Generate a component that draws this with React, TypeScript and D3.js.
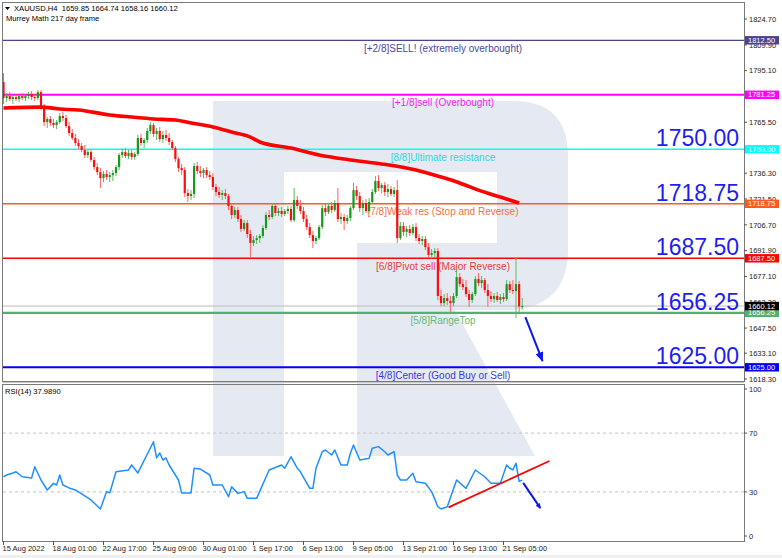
import React from "react";
import * as d3 from "d3";

// ---- data ----
const headerOHLC = [1659.85, 1664.74, 1658.16, 1660.12];
const rsiCurrent = 37.989;

const timeLabels = [
  "15 Aug 2022", "18 Aug 01:00", "22 Aug 17:00", "25 Aug 09:00", "30 Aug 01:00",
  "1 Sep 17:00", "6 Sep 13:00", "9 Sep 05:00", "13 Sep 21:00", "16 Sep 13:00", "21 Sep 05:00",
];
const timeLabelBars = [0, 16, 32, 48, 64, 80, 96, 112, 128, 144, 160];

// ticks that are not hidden behind the level tags
const priceTicks = [
  1824.7, 1809.9, 1795.1, 1765.5, 1736.3, 1721.5,
  1706.7, 1691.9, 1677.1, 1662.3, 1647.5, 1633.1, 1618.3,
];
const rsiTicks = [100, 70, 30, 0];
const rsiLevels = [70, 30];

// H4 candles, 15 Aug - 22 Sep 2022
const opens = [
  1788.6, 1779.4, 1780.5, 1778.8, 1779.9, 1778.8, 1780.5, 1779.4, 1780.5, 1781.7,
  1779.9, 1779.4, 1782.8, 1774.2, 1765.6, 1767.4, 1765.1, 1763.9, 1765.6, 1769.1,
  1767.9, 1763.3, 1759.3, 1756.5, 1753.6, 1751.9, 1749.6, 1746.7, 1748.4, 1743.9,
  1739.8, 1736.9, 1733.5, 1735.8, 1734.1, 1735.2, 1736.4, 1739.8, 1746.7, 1748.4,
  1746.1, 1747.9, 1745.6, 1747.3, 1756.5, 1753.6, 1755.3, 1760.5, 1763.9, 1758.8,
  1760.5, 1755.9, 1758.2, 1756.5, 1754.2, 1750.7, 1744.4, 1739.3, 1738.1, 1724.9,
  1723.2, 1724.4, 1740.4, 1737.5, 1736.4, 1738.1, 1735.2, 1734.1, 1728.4, 1725.5,
  1723.8, 1724.9, 1723.2, 1717.5, 1712.3, 1715.2, 1710.0, 1704.3, 1707.7, 1701.4,
  1696.3, 1698.0, 1699.1, 1700.3, 1704.9, 1712.3, 1711.2, 1717.5, 1713.5, 1714.6,
  1712.9, 1714.6, 1715.8, 1709.4, 1720.9, 1717.5, 1714.6, 1710.0, 1705.4, 1700.8,
  1697.4, 1699.1, 1705.4, 1716.3, 1714.0, 1717.5, 1715.2, 1719.2, 1710.0, 1711.2,
  1708.9, 1710.6, 1716.3, 1726.6, 1723.2, 1716.3, 1719.2, 1714.6, 1719.8, 1725.5,
  1731.8, 1727.8, 1729.5, 1725.5, 1727.2, 1724.4, 1726.6, 1699.1, 1706.0, 1702.6,
  1704.3, 1702.0, 1705.4, 1699.1, 1697.4, 1698.6, 1693.9, 1689.4, 1690.5, 1691.7,
  1665.9, 1661.8, 1664.7, 1663.0, 1661.8, 1665.9, 1676.7, 1672.7, 1671.0, 1667.0,
  1663.6, 1667.0, 1675.6, 1673.3, 1675.0, 1669.3, 1665.9, 1664.1, 1665.9, 1663.6,
  1665.3, 1664.1, 1672.7, 1669.3, 1668.7, 1672.7, 1659.85,
];
const highs = [
  1793.7, 1782.3, 1782.8, 1781.1, 1781.7, 1781.1, 1782.3, 1781.1, 1782.8, 1783.4,
  1781.7, 1784.0, 1784.0, 1776.0, 1768.5, 1769.1, 1767.4, 1766.8, 1770.8, 1771.4,
  1769.7, 1765.6, 1761.6, 1758.8, 1755.9, 1753.6, 1752.4, 1749.6, 1749.6, 1745.6,
  1742.1, 1739.3, 1737.5, 1738.1, 1737.0, 1738.1, 1741.0, 1747.9, 1750.2, 1750.7,
  1749.6, 1750.2, 1748.4, 1758.2, 1758.8, 1756.5, 1762.2, 1765.6, 1765.1, 1762.2,
  1762.8, 1760.5, 1761.1, 1759.3, 1755.3, 1751.9, 1745.6, 1741.6, 1739.8, 1727.2,
  1726.6, 1742.1, 1742.7, 1740.4, 1739.3, 1739.8, 1737.5, 1736.4, 1730.1, 1728.4,
  1726.6, 1727.2, 1724.4, 1719.2, 1716.9, 1716.9, 1712.3, 1709.4, 1709.4, 1703.7,
  1700.3, 1700.8, 1701.4, 1706.6, 1714.0, 1715.2, 1719.2, 1718.6, 1716.3, 1716.9,
  1715.8, 1717.5, 1717.5, 1727.8, 1723.2, 1720.9, 1716.9, 1712.3, 1707.7, 1703.1,
  1700.3, 1706.6, 1718.1, 1719.2, 1719.2, 1719.8, 1720.9, 1727.8, 1713.5, 1712.9,
  1712.3, 1717.5, 1730.7, 1729.0, 1725.5, 1720.9, 1721.5, 1722.1, 1727.2, 1734.7,
  1735.2, 1730.7, 1731.2, 1730.1, 1729.0, 1728.4, 1732.4, 1708.3, 1708.3, 1706.0,
  1706.6, 1707.2, 1707.7, 1701.4, 1700.3, 1700.3, 1696.3, 1692.8, 1693.4, 1693.4,
  1669.3, 1667.0, 1667.6, 1665.9, 1667.6, 1680.8, 1679.0, 1675.6, 1675.0, 1669.3,
  1668.2, 1677.3, 1679.0, 1677.3, 1676.2, 1672.7, 1668.7, 1667.6, 1668.2, 1667.0,
  1667.6, 1675.0, 1674.5, 1675.0, 1687.7, 1674.5, 1664.74,
];
const lows = [
  1776.0, 1777.1, 1777.7, 1776.0, 1777.7, 1777.1, 1778.3, 1777.7, 1778.8, 1778.3,
  1777.7, 1778.3, 1772.5, 1763.3, 1762.2, 1763.3, 1762.2, 1761.6, 1764.5, 1766.2,
  1762.2, 1757.6, 1755.3, 1751.9, 1750.2, 1748.4, 1745.0, 1745.0, 1742.7, 1738.1,
  1735.2, 1727.8, 1731.2, 1732.4, 1731.2, 1731.8, 1734.7, 1738.1, 1745.0, 1745.0,
  1744.4, 1743.9, 1743.9, 1746.1, 1751.9, 1750.7, 1753.6, 1758.8, 1757.0, 1755.3,
  1754.2, 1753.6, 1754.7, 1752.4, 1749.6, 1742.7, 1737.0, 1735.2, 1722.6, 1719.8,
  1720.9, 1722.1, 1735.8, 1734.1, 1733.5, 1733.5, 1732.4, 1726.6, 1723.2, 1722.1,
  1720.9, 1721.5, 1715.2, 1710.0, 1710.6, 1708.3, 1702.6, 1703.1, 1699.1, 1688.2,
  1694.5, 1695.7, 1696.3, 1699.1, 1703.7, 1709.4, 1710.0, 1711.7, 1711.7, 1711.2,
  1711.7, 1712.9, 1708.3, 1708.3, 1715.8, 1712.9, 1708.3, 1703.7, 1699.1, 1693.4,
  1695.7, 1698.0, 1704.3, 1711.7, 1712.9, 1713.5, 1714.0, 1708.3, 1707.2, 1703.7,
  1707.2, 1708.9, 1715.2, 1720.9, 1714.0, 1712.3, 1713.5, 1713.5, 1719.2, 1724.4,
  1726.1, 1724.9, 1723.2, 1722.6, 1723.2, 1722.6, 1696.3, 1698.0, 1700.3, 1699.7,
  1700.3, 1700.8, 1697.4, 1695.7, 1695.1, 1692.2, 1687.6, 1687.1, 1687.6, 1663.6,
  1660.1, 1660.1, 1660.7, 1656.7, 1660.1, 1664.7, 1671.0, 1669.3, 1665.3, 1659.6,
  1661.9, 1665.9, 1671.6, 1670.5, 1667.6, 1659.6, 1662.4, 1661.9, 1662.4, 1661.3,
  1662.4, 1663.0, 1667.6, 1667.0, 1653.3, 1656.7, 1658.16,
];
const closes = [
  1779.4, 1780.5, 1778.8, 1779.9, 1778.8, 1780.5, 1779.4, 1780.5, 1781.7, 1779.9,
  1779.4, 1782.8, 1774.2, 1765.6, 1767.4, 1765.1, 1763.9, 1765.6, 1769.1, 1767.9,
  1763.3, 1759.3, 1756.5, 1753.6, 1751.9, 1749.6, 1746.7, 1748.4, 1743.9, 1739.8,
  1736.9, 1733.5, 1735.8, 1734.1, 1735.2, 1736.4, 1739.8, 1746.7, 1748.4, 1746.1,
  1747.9, 1745.6, 1747.3, 1756.5, 1753.6, 1755.3, 1760.5, 1763.9, 1758.8, 1760.5,
  1755.9, 1758.2, 1756.5, 1754.2, 1750.7, 1744.4, 1739.3, 1738.1, 1724.9, 1723.2,
  1724.4, 1740.4, 1737.5, 1736.4, 1738.1, 1735.2, 1734.1, 1728.4, 1725.5, 1723.8,
  1724.9, 1723.2, 1717.5, 1712.3, 1715.2, 1710.0, 1704.3, 1707.7, 1701.4, 1696.3,
  1698.0, 1699.1, 1700.3, 1704.9, 1712.3, 1711.2, 1717.5, 1713.5, 1714.6, 1712.9,
  1714.6, 1715.8, 1709.4, 1720.9, 1717.5, 1714.6, 1710.0, 1705.4, 1700.8, 1697.4,
  1699.1, 1705.4, 1716.3, 1714.0, 1717.5, 1715.2, 1719.2, 1710.0, 1711.2, 1708.9,
  1710.6, 1716.3, 1726.6, 1723.2, 1716.3, 1719.2, 1714.6, 1719.8, 1725.5, 1731.8,
  1727.8, 1729.5, 1725.5, 1727.2, 1724.4, 1726.6, 1699.1, 1706.0, 1702.6, 1704.3,
  1702.0, 1705.4, 1699.1, 1697.4, 1698.6, 1693.9, 1689.4, 1690.5, 1691.7, 1665.9,
  1661.8, 1664.7, 1663.0, 1661.8, 1665.9, 1676.7, 1672.7, 1671.0, 1667.0, 1663.6,
  1667.0, 1675.6, 1673.3, 1675.0, 1669.3, 1665.9, 1664.1, 1665.9, 1663.6, 1665.3,
  1664.1, 1672.7, 1669.3, 1668.7, 1672.7, 1659.85, 1660.12,
];

// moving average (thick red) read at a few bars
const maBars = [0, 12, 18, 24, 34, 41, 48, 55, 60, 67, 73, 79, 82, 92, 101, 111, 121, 132, 140, 146, 152, 159, 165];
const maValues = [
  1773.7, 1774.2, 1773.1, 1772.5, 1769.7, 1768.5, 1767.4, 1766.8, 1765.1, 1762.8, 1759.9, 1757.0,
  1754.2, 1750.7, 1746.7, 1743.9, 1741.6, 1738.1, 1734.1, 1730.7, 1726.6, 1722.6, 1719.2,
];

// RSI(14) vertices
const rsiBars = [
  0, 1, 3, 4, 6, 9, 10, 12, 14, 16, 17, 18, 19, 21, 23, 28, 31, 33, 34, 36,
  40, 41, 43, 48, 49, 50, 51, 52, 53, 56, 57, 60, 61, 63, 66, 67, 70, 72, 73, 75,
  77, 78, 81, 85, 89, 90, 92, 94, 95, 98, 99, 100, 102, 103, 105, 106, 108, 110, 111, 112,
  114, 117, 118, 120, 122, 123, 125, 126, 127, 129, 131, 132, 135, 137, 139, 140, 142, 145, 148, 151,
  154, 156, 159, 161, 162, 163, 164, 165, 166,
];
const rsiValues = [
  40.3, 41.5, 42.9, 43.7, 40.3, 39.5, 47.1, 38.1, 31.3, 35.8, 34.7, 41.5, 34.7, 32.7, 31.3, 24.5, 18.4, 30.2, 29.3, 43.7,
  44.9, 48.3, 42.9, 64.1, 53.1, 56.5, 51.7, 53.1, 48.3, 38.1, 29.3, 29.3, 46.1, 45.5, 41.5, 34.7, 34.7, 26.7, 33.5, 29.0,
  30.2, 25.6, 25.6, 44.9, 48.3, 46.1, 53.9, 46.1, 43.7, 32.4, 32.4, 46.1, 57.3, 58.5, 55.1, 58.5, 48.3, 48.3, 56.3, 61.9,
  51.7, 52.9, 59.7, 60.8, 57.3, 55.1, 57.3, 41.5, 38.1, 38.1, 42.7, 36.9, 35.9, 30.2, 19.9, 18.4, 19.9, 38.1, 32.4, 44.9,
  40.3, 35.9, 35.9, 48.3, 46.1, 45.0, 49.5, 37.2, 37.99,
];

// Murrey Math levels
const murreyLevels = [1812.5, 1781.25, 1750, 1718.75, 1687.5, 1656.25, 1625];
const murreyNames = [
  "[+2/8]SELL! (extremely overbought)",
  "[+1/8]sell (Overbought)",
  "[8/8]Ultimate resistance",
  "[7/8]Weak res (Stop and Reverse)",
  "[6/8]Pivot sell (Major Reverse)",
  "[5/8]RangeTop",
  "[4/8]Center (Good Buy or Sell)",
];
const murreyLine = ["#4b4390", "#ff00ff", "#00ffff", "#ff5a1e", "#ff0000", "#4db36e", "#0000ff"];
const murreyText = ["#4e4896", "#f01cf0", "#2ed6e2", "#f3703f", "#e83c3c", "#62bb7a", "#3a3ae0"];
const murreyWidth = [1.2, 2, 1.6, 1.6, 1.6, 2.2, 2];
const bigLevels = [1750, 1718.75, 1687.5, 1656.25, 1625];
const lastPrice = 1660.12;

// hand-drawn annotations
const priceArrowBars = [167, 172.5];
const priceArrowValues = [1653.8, 1628.6];
const rsiTrendBars = [142.4, 174.7];
const rsiTrendValues = [19.5, 51];
const rsiArrowBars = [166.3, 171.8];
const rsiArrowValues = [36.1, 19.0];

const FONT = "'Liberation Sans', Arial, sans-serif";

export default function App() {
  const x = d3.scaleLinear().domain([0, 236.8]).range([3.5, 743.5]);
  const y = d3.scaleLinear().domain([1824.7, 1618.3]).range([19, 379]);
  const yR = d3.scaleLinear().domain([0, 100]).range([536, 389]);

  const maLine = d3
    .line<number>()
    .x((_, i) => x(maBars[i]))
    .y((v) => y(v))
    .curve(d3.curveMonotoneX)(maValues) as string;

  const rsiLine = d3
    .line<number>()
    .x((_, i) => x(rsiBars[i]))
    .y((v) => yR(v))(rsiValues) as string;

  const fmt = d3.format(".2f");
  const tagH = 8.4;

  return (
    <svg
      width={782}
      height={558}
      style={{ position: "absolute", left: 0, top: 0, background: "#fff" }}
      fontFamily={FONT}
    >
      <defs>
        <marker id="arrow" viewBox="0 0 10 10" refX="9" refY="5" markerWidth="7" markerHeight="5" orient="auto" markerUnits="userSpaceOnUse">
          <path d="M0,0 L10,5 L0,10 Z" fill="#0a18e8" />
        </marker>
        <marker id="arrowBig" viewBox="0 0 12 10" refX="11" refY="5" markerWidth="12" markerHeight="8" orient="auto" markerUnits="userSpaceOnUse">
          <path d="M0,0 L12,5 L0,10 Z" fill="#0a18e8" />
        </marker>
        <clipPath id="mainClip">
          <rect x={3} y={3} width={741} height={378} />
        </clipPath>
        <clipPath id="rsiClip">
          <rect x={3} y={385} width={741} height={156} />
        </clipPath>
      </defs>

      <rect x={0} y={0} width={782} height={558} fill="#fff" />
      <rect x={0} y={555} width={782} height={3} fill="#f0f0f0" />

      {/* watermark logo */}
      <path
        d="M213,101 H513 Q568,101 568,156 V250 Q568,305 513,310 H455 L535,456 H357 V243 H497 V172 H284 V456 H213 Z"
        fill="#e5eaf2"
      />

      {/* RSI levels */}
      {rsiLevels.map((v) => (
        <line key={v} x1={3} x2={744} y1={yR(v)} y2={yR(v)} stroke="#c4c4c4" strokeDasharray="3,3" />
      ))}

      <g clipPath="url(#mainClip)">
        {/* current price line */}
        <line x1={3} x2={744} y1={y(lastPrice)} y2={y(lastPrice)} stroke="#bdbdbd" strokeWidth={1} />

        {murreyLevels.map((lv, i) => (
          <line key={lv} x1={3} x2={744} y1={y(lv)} y2={y(lv)} stroke={murreyLine[i]} strokeWidth={murreyWidth[i]} />
        ))}
        {murreyLevels.map((lv, i) => (
          <text key={"t" + lv} x={443} y={y(lv) + 11.5} fontSize={10} fill={murreyText[i]} textAnchor="middle">
            {murreyNames[i]}
          </text>
        ))}

        {/* candles */}
        {closes.map((c, i) => {
          const o = opens[i];
          const up = c >= o;
          const cx = x(i);
          const top = y(Math.max(o, c));
          const bot = y(Math.min(o, c));
          return (
            <g key={i}>
              <line x1={cx} x2={cx} y1={y(highs[i])} y2={y(lows[i])} stroke={up ? "#5cb85c" : "#ff6060"} strokeWidth={1} />
              <rect x={cx - 1.1} y={top} width={2.2} height={Math.max(1, bot - top)} fill={up ? "#139a1f" : "#ff0d0d"} />
            </g>
          );
        })}

        {/* moving average */}
        <path d={maLine} fill="none" stroke="#ff0000" strokeWidth={3.6} strokeLinejoin="round" />

        {/* big level numbers */}
        {bigLevels.map((lv) => (
          <text key={"b" + lv} x={739} y={y(lv) - 3} fontSize={23} fill="#1e1ef0" textAnchor="end">
            {fmt(lv)}
          </text>
        ))}

        {/* forecast arrow */}
        <line
          x1={x(priceArrowBars[0])}
          y1={y(priceArrowValues[0])}
          x2={x(priceArrowBars[1])}
          y2={y(priceArrowValues[1])}
          stroke="#0a18e8"
          strokeWidth={2}
          markerEnd="url(#arrowBig)"
        />
      </g>

      <g clipPath="url(#rsiClip)">
        <path d={rsiLine} fill="none" stroke="#1e90ff" strokeWidth={1.5} strokeLinejoin="round" />
        <line
          x1={x(rsiTrendBars[0])}
          y1={yR(rsiTrendValues[0])}
          x2={x(rsiTrendBars[1])}
          y2={yR(rsiTrendValues[1])}
          stroke="#ff0000"
          strokeWidth={1.8}
        />
        <line
          x1={x(rsiArrowBars[0])}
          y1={yR(rsiArrowValues[0])}
          x2={x(rsiArrowBars[1])}
          y2={yR(rsiArrowValues[1])}
          stroke="#0a18e8"
          strokeWidth={2}
          markerEnd="url(#arrow)"
        />
      </g>

      {/* frames */}
      <rect x={2.5} y={2.5} width={742} height={379} fill="none" stroke="#7a7a7a" strokeWidth={1} />
      <rect x={2.5} y={384.5} width={742} height={157} fill="none" stroke="#7a7a7a" strokeWidth={1} />
      <line x1={3} x2={744} y1={382.5} y2={382.5} stroke="#c8c8c8" />

      {/* header */}
      <path d="M5,7 L10,7 L7.5,10 Z" fill="#000" />
      <text x={14} y={11} fontSize={7.6} fill="#000">
        {"XAUUSD,H4\u00a0\u00a0" + headerOHLC.map(fmt).join(" ")}
      </text>
      <text x={6} y={21} fontSize={7.6} fill="#000">
        Murrey Math 217 day frame
      </text>
      <text x={5} y={394} fontSize={7.6} fill="#000">
        {"RSI(14) " + d3.format(".4f")(rsiCurrent)}
      </text>

      {/* price axis */}
      {priceTicks.map((p) => (
        <g key={p}>
          <line x1={744} x2={747} y1={y(p)} y2={y(p)} stroke="#555" />
          <text x={749} y={y(p) + 2.7} fontSize={7.5} fill="#222">
            {fmt(p)}
          </text>
        </g>
      ))}
      {murreyLevels.map((lv, i) => (
        <g key={"l" + lv}>
          <rect x={745} y={y(lv) - tagH / 2} width={34} height={tagH} fill={murreyLine[i]} />
          <text x={748} y={y(lv) + 2.6} fontSize={7.5} fill="#fff">
            {fmt(lv)}
          </text>
        </g>
      ))}
      <rect x={745} y={y(lastPrice) - tagH / 2} width={34} height={tagH} fill="#000" />
      <text x={748} y={y(lastPrice) + 2.6} fontSize={7.5} fill="#fff">
        {fmt(lastPrice)}
      </text>

      {/* RSI axis */}
      {rsiTicks.map((v) => (
        <g key={"r" + v}>
          <line x1={744} x2={747} y1={yR(v)} y2={yR(v)} stroke="#555" />
          <text x={749} y={yR(v) + 2.7} fontSize={7.5} fill="#1c1c50">
            {v}
          </text>
        </g>
      ))}

      {/* time axis */}
      {timeLabelBars.map((b, i) => (
        <g key={"x" + b}>
          <line x1={x(b)} x2={x(b)} y1={541} y2={545} stroke="#555" />
          <text x={x(b) - 1} y={551} fontSize={7.5} fill="#222">
            {timeLabels[i]}
          </text>
        </g>
      ))}
    </svg>
  );
}
